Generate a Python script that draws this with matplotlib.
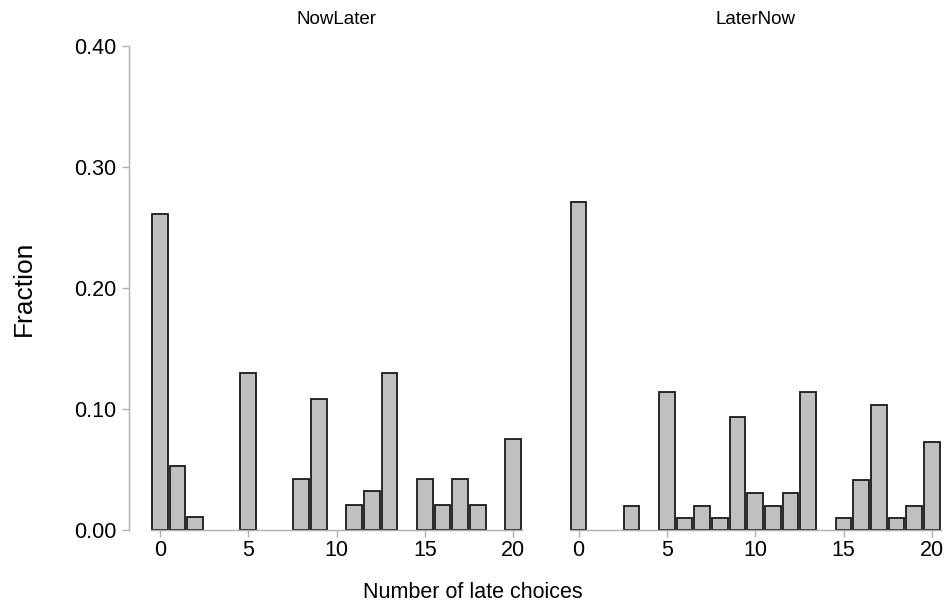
import matplotlib
matplotlib.use("Agg")
import matplotlib.pyplot as plt

plt.rcParams['font.family'] = ['Liberation Sans', 'DejaVu Sans']

panels = ["NowLater", "LaterNow"]
nowlater_x = [0, 1, 2, 5, 8, 9, 11, 12, 13, 15, 16, 17, 18, 20]
nowlater_y = [0.261, 0.053, 0.0106, 0.130, 0.0425, 0.108, 0.021, 0.032, 0.130,
              0.0425, 0.021, 0.0425, 0.021, 0.0755]
laternow_x = [0, 3, 5, 6, 7, 8, 9, 10, 11, 12, 13, 15, 16, 17, 18, 19, 20]
laternow_y = [0.271, 0.020, 0.114, 0.0100, 0.020, 0.0100, 0.093, 0.0305, 0.020,
              0.0305, 0.114, 0.0100, 0.041, 0.1035, 0.0100, 0.020, 0.0725]
xticks = [0, 5, 10, 15, 20]
yticks = [0.0, 0.1, 0.2, 0.3, 0.4]
ytick_labels = ["0.00", "0.10", "0.20", "0.30", "0.40"]

fig = plt.figure(figsize=(9.47, 6.07), dpi=100)
bottom = 1 - 530 / 607
top = 1 - 46 / 607
h = top - bottom
ax1 = fig.add_axes([151 / 947, bottom, 371 / 947, h])
ax2 = fig.add_axes([569.7 / 947, bottom, 371 / 947, h])

axis_gray = "#b0b0b0"
for ax, xs, ys, title in [(ax1, nowlater_x, nowlater_y, panels[0]),
                          (ax2, laternow_x, laternow_y, panels[1])]:
    ax.bar(xs, ys, width=0.9, color="#c0c0c0", edgecolor="#1a1a1a", linewidth=1.3)
    ax.set_xlim(-0.5, 20.5)
    ax.set_ylim(0, 0.40)
    ax.set_xticks(xticks)
    ax.set_xticklabels([str(t) for t in xticks], fontsize=15.5)
    ax.tick_params(axis='x', length=5, color=axis_gray, width=1, pad=2)
    for s in ["top", "right"]:
        ax.spines[s].set_visible(False)
    ax.spines["bottom"].set_color(axis_gray)
    ax.spines["bottom"].set_linewidth(1)
    ax.set_title(title, fontsize=13.5, pad=15.5)
    ax.set_facecolor("white")

ax1.spines["left"].set_position(("outward", 16))
ax1.spines["left"].set_color(axis_gray)
ax1.spines["left"].set_linewidth(1)
ax1.set_yticks(yticks)
ax1.set_yticklabels(ytick_labels, fontsize=15.5)
ax1.tick_params(axis='y', length=5, color=axis_gray, width=1, pad=4)

ax2.spines["left"].set_visible(False)
ax2.set_yticks([])

fig.text(24 / 947, 1 - 288 / 607, "Fraction", fontsize=19, rotation=90,
         ha="center", va="center")
fig.text(473 / 947, 1 - 593 / 607, "Number of late choices", fontsize=15.5,
         ha="center", va="center")

fig.savefig("out.png", dpi=100, facecolor="white")
